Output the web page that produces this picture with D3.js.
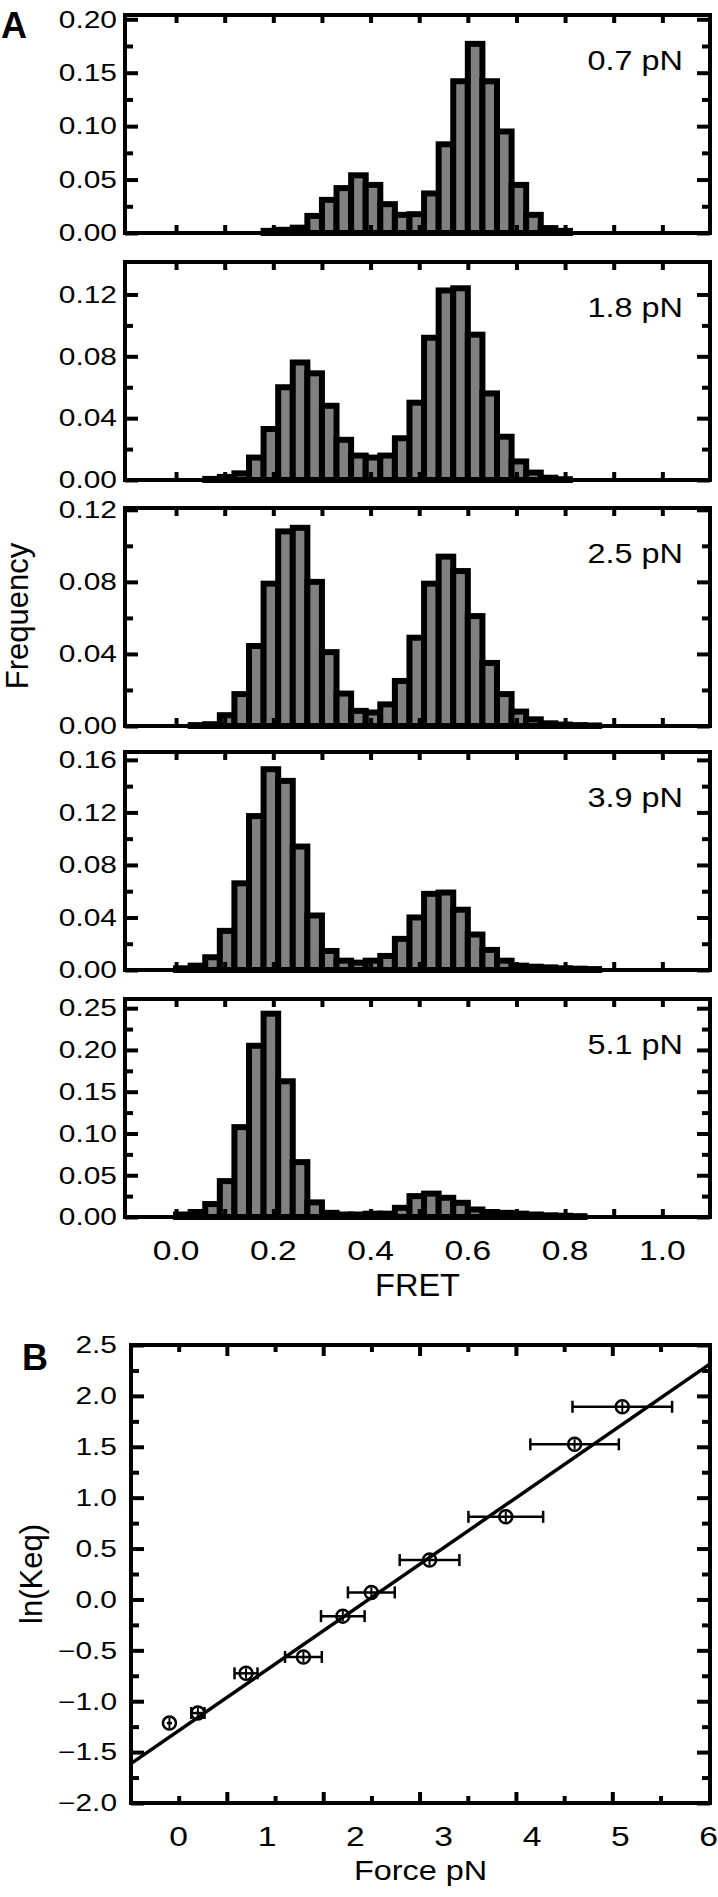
<!DOCTYPE html>
<html lang="en">
<head>
<meta charset="UTF-8">
<title>FRET histograms and ln(Keq) vs force</title>
<script src="https://d3js.org/d3.v7.min.js"></script>
<style>
  body { margin: 0; background: #fff; }
  svg { display: block; }
  text { font-family: "Liberation Sans", Arial, Helvetica, sans-serif; fill: #000; }
  .tick line { stroke: #000; stroke-width: 4px; }
  .frame { fill: none; stroke: #000; stroke-width: 4px; }
  .bar { fill: #808080; stroke: #000; stroke-width: 6px; }
</style>
</head>
<body>
<svg id="chart" width="718" height="1897"></svg>
<script>
// ---- data ----
const binWidth = 0.03;   // FRET bins start at 0
const forces = ["0.7 pN", "1.8 pN", "2.5 pN", "3.9 pN", "5.1 pN"];

const hist07 = [0, 0, 0, 0, 0, 0, 0.002, 0.003, 0.005, 0.016, 0.031, 0.042, 0.054, 0.045, 0.027,
  0.017, 0.0176, 0.037, 0.083, 0.142, 0.177, 0.142, 0.095, 0.045, 0.017, 0.0046, 0.002, 0, 0, 0];
const hist18 = [0, 0, 0.0007, 0.002, 0.0043, 0.0145, 0.033, 0.060, 0.076, 0.069, 0.048, 0.026, 0.0158, 0.0145, 0.0158,
  0.027, 0.050, 0.092, 0.1226, 0.124, 0.094, 0.056, 0.028, 0.012, 0.0048, 0.0015, 0.0005, 0, 0, 0];
const hist25 = [0, 0.0005, 0.001, 0.006, 0.0177, 0.0444, 0.079, 0.108, 0.110, 0.080, 0.041, 0.018, 0.0084, 0.0075, 0.012,
  0.025, 0.049, 0.079, 0.094, 0.086, 0.061, 0.035, 0.0177, 0.008, 0.0037, 0.0015, 0.0008, 0.0005, 0.0003, 0];
const hist39 = [0.0013, 0.0033, 0.0097, 0.0298, 0.066, 0.1172, 0.1529, 0.144, 0.094, 0.0415, 0.0145, 0.0071, 0.0056, 0.0071, 0.0107,
  0.0237, 0.040, 0.058, 0.059, 0.0459, 0.027, 0.0153, 0.0071, 0.0033, 0.0025, 0.002, 0.0013, 0.001, 0.0007, 0];
const hist51 = [0.003, 0.006, 0.0155, 0.043, 0.1076, 0.205, 0.2434, 0.1625, 0.0657, 0.0175, 0.005, 0.003, 0.003, 0.004, 0.004,
  0.011, 0.025, 0.028, 0.023, 0.017, 0.009, 0.006, 0.005, 0.004, 0.003, 0.002, 0.0015, 0.001, 0, 0];
const histograms = [hist07, hist18, hist25, hist39, hist51];

const yTops = [0.204, 0.141, 0.121, 0.166, 0.261];
const yMajor = [
  [0, 0.05, 0.10, 0.15, 0.20],
  [0, 0.04, 0.08, 0.12],
  [0, 0.04, 0.08, 0.12],
  [0, 0.04, 0.08, 0.12, 0.16],
  [0, 0.05, 0.10, 0.15, 0.20, 0.25]
];
const yMinor = [
  [0.025, 0.075, 0.125, 0.175],
  [0.02, 0.06, 0.10],
  [0.02, 0.06, 0.10],
  [0.02, 0.06, 0.10, 0.14],
  [0.025, 0.075, 0.125, 0.175, 0.225]
];
const fretTicks = [0, 0.1, 0.2, 0.3, 0.4, 0.5, 0.6, 0.7, 0.8, 0.9, 1.0];
const fretLabels = [0, 0.2, 0.4, 0.6, 0.8, 1.0];

// panel B
const force = [-0.105, 0.217, 0.762, 1.412, 1.858, 2.181, 2.840, 3.703, 4.482, 5.022];
const lnKeq = [-1.215, -1.116, -0.726, -0.565, -0.164, 0.069, 0.387, 0.812, 1.524, 1.893];
const forceErr = [0.03, 0.075, 0.13, 0.208, 0.247, 0.265, 0.338, 0.423, 0.501, 0.564];
const lnKeqErr = [0.05, 0.05, 0.05, 0.05, 0.05, 0.05, 0.05, 0.05, 0.05, 0.05];
const fitSlope = 0.599, fitIntercept = -1.289;
const forceLabels = [0, 1, 2, 3, 4, 5, 6];
const forceTicksMinor = [0, 1.091, 2.182, 3.273, 4.364, 5.455];
const forceTicksMajor = [0.545, 1.636, 2.727, 3.818, 4.909];
const lnMajor = [-2, -1.5, -1, -0.5, 0, 0.5, 1, 1.5, 2, 2.5];
const lnMinor = [-1.75, -1.25, -0.75, -0.25, 0.25, 0.75, 1.25, 1.75, 2.25];

// ---- layout ----
const svg = d3.select("#chart");
const aLeft = 125, aRight = 710;
const panelTops = [15, 262, 508, 752, 999];
const panelH = 218;

function stext(g, x, y, str, size, anchor, sx, extra) {
  const t = g.append("text")
    .attr("transform", `translate(${x},${y}) scale(${sx},1)`)
    .attr("text-anchor", anchor)
    .style("font-size", size + "px")
    .text(str);
  if (extra) extra(t);
  return t;
}

const x = d3.scaleLinear().domain([-0.105, 1.098]).range([aLeft, aRight]);

histograms.forEach((vals, i) => {
  const top = panelTops[i];
  const g = svg.append("g");
  const y = d3.scaleLinear().domain([0, yTops[i]]).range([top + panelH, top]);
  const bins = vals.map((v, k) => ({ x0: k * binWidth, x1: (k + 1) * binWidth, v: v })).filter(d => d.v > 0);

  g.selectAll(".bar").data(bins).join("rect")
    .attr("class", "bar")
    .attr("x", d => x(d.x0))
    .attr("width", d => x(d.x1) - x(d.x0))
    .attr("y", d => y(d.v))
    .attr("height", d => y(0) - y(d.v));

  // ticks, all pointing inward
  const ax = (axis, tx, ty) => {
    const a = g.append("g").attr("transform", `translate(${tx},${ty})`).call(axis);
    a.select(".domain").remove();
    a.selectAll("text").remove();
  };
  ax(d3.axisLeft(y).tickValues(yMajor[i]).tickSize(-13), aLeft, 0);
  ax(d3.axisLeft(y).tickValues(yMinor[i]).tickSize(-8), aLeft, 0);
  ax(d3.axisRight(y).tickValues(yMajor[i]).tickSize(-13), aRight, 0);
  ax(d3.axisRight(y).tickValues(yMinor[i]).tickSize(-8), aRight, 0);
  ax(d3.axisBottom(x).tickValues(fretTicks).tickSize(-8), 0, top + panelH);
  ax(d3.axisTop(x).tickValues(fretTicks).tickSize(-8), 0, top);

  g.append("rect").attr("class", "frame")
    .attr("x", aLeft).attr("y", top).attr("width", aRight - aLeft).attr("height", panelH);

  yMajor[i].forEach(v => stext(g, 117, y(v), d3.format(".2f")(v), 23, "end", 1.3, t => t.attr("dy", "0.36em")));
  stext(g, 683, top + 55, forces[i], 27, "end", 1.2);

  if (i === histograms.length - 1) {
    fretLabels.forEach(v => stext(g, x(v), top + panelH + 43, d3.format(".1f")(v), 28, "middle", 1.2));
    stext(g, (aLeft + aRight) / 2, 1296, "FRET", 31, "middle", 1.05);
  }
});

stext(svg, 1, 38, "A", 36, "start", 1, t => t.style("font-weight", "bold"));
stext(svg, 0, 0, "Frequency", 31, "middle", 1, t => t.attr("transform", "translate(28,616) rotate(-90)"));

// ---- panel B ----
const bLeft = 131, bRight = 710, bTop = 1345, bBottom = 1803;
const gb = svg.append("g");
const fx = d3.scaleLinear().domain([-0.54, 6.015]).range([bLeft, bRight]);
const fy = d3.scaleLinear().domain([-2, 2.5]).range([bBottom, bTop]);

const axb = (axis, tx, ty) => {
  const a = gb.append("g").attr("transform", `translate(${tx},${ty})`).call(axis);
  a.select(".domain").remove();
  a.selectAll("text").remove();
};
axb(d3.axisLeft(fy).tickValues(lnMajor).tickSize(-13), bLeft, 0);
axb(d3.axisLeft(fy).tickValues(lnMinor).tickSize(-8), bLeft, 0);
axb(d3.axisRight(fy).tickValues(lnMajor).tickSize(-13), bRight, 0);
axb(d3.axisRight(fy).tickValues(lnMinor).tickSize(-8), bRight, 0);
axb(d3.axisBottom(fx).tickValues(forceTicksMajor).tickSize(-11), 0, bBottom);
axb(d3.axisBottom(fx).tickValues(forceTicksMinor).tickSize(-7), 0, bBottom);
axb(d3.axisTop(fx).tickValues(forceTicksMajor).tickSize(-11), 0, bTop);
axb(d3.axisTop(fx).tickValues(forceTicksMinor).tickSize(-7), 0, bTop);

gb.append("defs").append("clipPath").attr("id", "clipB")
  .append("rect").attr("x", bLeft).attr("y", bTop).attr("width", bRight - bLeft).attr("height", bBottom - bTop);

const fitLine = d3.line().x(d => fx(d)).y(d => fy(fitIntercept + fitSlope * d));
gb.append("path").datum(fx.domain())
  .attr("d", fitLine)
  .attr("clip-path", "url(#clipB)")
  .attr("fill", "none").attr("stroke", "#000").attr("stroke-width", 3.5);

const pts = force.map((f, i) => ({ f: f, k: lnKeq[i], fe: forceErr[i], ke: lnKeqErr[i] }));
const pg = gb.selectAll(".pt").data(pts).join("g").attr("class", "pt");
pg.append("line")
  .attr("x1", d => fx(d.f - d.fe)).attr("x2", d => fx(d.f + d.fe))
  .attr("y1", d => fy(d.k)).attr("y2", d => fy(d.k))
  .attr("stroke", "#000").attr("stroke-width", 2.5);
pg.filter(d => d.fe > 0.05).selectAll(".cap").data(d => [[d.f - d.fe, d.k], [d.f + d.fe, d.k]]).join("line")
  .attr("x1", d => fx(d[0])).attr("x2", d => fx(d[0]))
  .attr("y1", d => fy(d[1]) - 6).attr("y2", d => fy(d[1]) + 6)
  .attr("stroke", "#000").attr("stroke-width", 2.5);
pg.append("line")
  .attr("x1", d => fx(d.f)).attr("x2", d => fx(d.f))
  .attr("y1", d => fy(d.k - d.ke)).attr("y2", d => fy(d.k + d.ke))
  .attr("stroke", "#000").attr("stroke-width", 2);
pg.append("circle")
  .attr("cx", d => fx(d.f)).attr("cy", d => fy(d.k)).attr("r", 6.5)
  .attr("fill", "none").attr("stroke", "#000").attr("stroke-width", 2.5);

gb.append("rect").attr("class", "frame")
  .attr("x", bLeft).attr("y", bTop).attr("width", bRight - bLeft).attr("height", bBottom - bTop);

lnMajor.forEach(v => stext(gb, 117, fy(v), d3.format(".1f")(v), 23, "end", 1.3, t => t.attr("dy", "0.36em")));
forceLabels.forEach(v => stext(gb, fx(v), 1846, String(v), 28, "middle", 1.2));
stext(gb, (bLeft + bRight) / 2, 1880, "Force pN", 27, "middle", 1.2);
stext(gb, 22, 1370, "B", 36, "start", 1, t => t.style("font-weight", "bold"));
stext(gb, 0, 0, "ln(Keq)", 31, "middle", 1, t => t.attr("transform", `translate(42,${(bTop + bBottom) / 2}) rotate(-90)`));
</script>
</body>
</html>
